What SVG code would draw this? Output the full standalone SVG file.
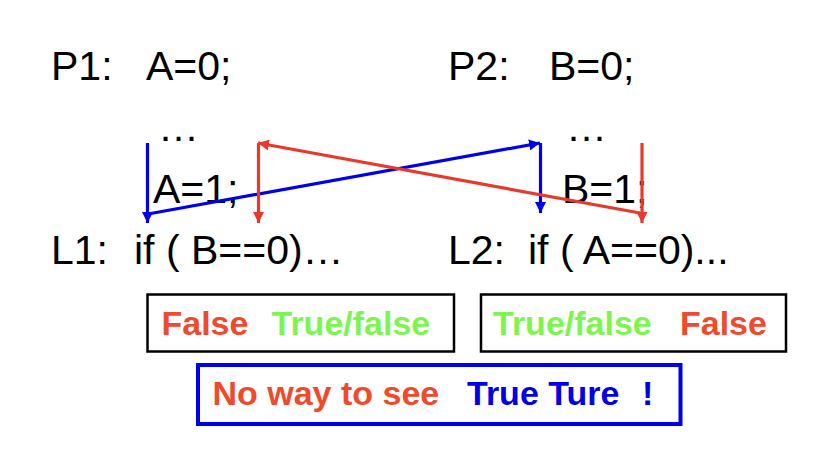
<svg xmlns="http://www.w3.org/2000/svg" width="828" height="464" viewBox="0 0 828 464">
<style>
.code{font-family:"Liberation Sans",Arial,sans-serif;font-size:41px;fill:#000}
.b{font-family:"Liberation Sans",Arial,sans-serif;font-size:34px;font-weight:bold}
.red{fill:#EE4A2B}
.green{fill:#7CF64F}
.blue{fill:#0000E8}
.box{fill:none;stroke:#000;stroke-width:2.5}
.bbox{fill:none;stroke:#0000F0;stroke-width:4}
.lb{fill:none;stroke:#0000F0;stroke-width:3.2}
.lr{fill:none;stroke:#E8392B;stroke-width:3.2}
</style>
<defs>
<marker id="ahB" markerUnits="userSpaceOnUse" viewBox="0 0 10 10" markerWidth="11" markerHeight="11" refX="10" refY="5" orient="auto"><path d="M0,0 L10,5 L0,10 z" fill="#0000F0"/></marker>
<marker id="ahR" markerUnits="userSpaceOnUse" viewBox="0 0 10 10" markerWidth="11" markerHeight="11" refX="10" refY="5" orient="auto"><path d="M0,0 L10,5 L0,10 z" fill="#E8392B"/></marker>
</defs>
<rect width="828" height="464" fill="#fff"/>
<g id="p1">
<text class="code" x="51" y="80">P1:</text>
<text class="code" x="146" y="80">A=0;</text>
<text class="code" x="158" y="141">…</text>
<text class="code" x="153" y="203">A=1;</text>
<text class="code" x="51" y="264">L1:</text>
<text class="code" x="134" y="264">if ( B==0)…</text>
</g>
<g id="p2">
<text class="code" x="448" y="80">P2:</text>
<text class="code" x="549" y="80">B=0;</text>
<text class="code" x="566" y="141">…</text>
<text class="code" x="562" y="203">B=1;</text>
<text class="code" x="448" y="264">L2:</text>
<text class="code" x="528" y="264">if ( A==0)...</text>
</g>
<g id="connectors">
<path class="lb" d="M147.5,143 L147.5,223" marker-end="url(#ahB)"/>
<path class="lb" d="M148,214 L540,143" marker-end="url(#ahB)"/>
<path class="lb" d="M540.5,143 L540.5,213" marker-end="url(#ahB)"/>
<path class="lr" d="M642,143 L642,223" marker-end="url(#ahR)"/>
<path class="lr" d="M640,213 L258,143" marker-end="url(#ahR)"/>
<path class="lr" d="M258.5,143 L258.5,223" marker-end="url(#ahR)"/>
</g>
<g id="result1">
<rect class="box" x="147.5" y="294.5" width="306.5" height="57"/>
<text class="b red" x="161.5" y="335">False</text>
<text class="b green" x="271.5" y="335">True/false</text>
</g>
<g id="result2">
<rect class="box" x="481" y="294.5" width="305" height="57"/>
<text class="b green" x="493" y="335">True/false</text>
<text class="b red" x="680" y="335">False</text>
</g>
<g id="conclusion">
<rect class="bbox" x="198" y="365" width="482.5" height="59"/>
<text class="b red" x="212.5" y="405">No way to see</text>
<text class="b blue" x="467" y="405">True Ture</text>
<text class="b blue" x="642" y="405">!</text>
</g>
</svg>
